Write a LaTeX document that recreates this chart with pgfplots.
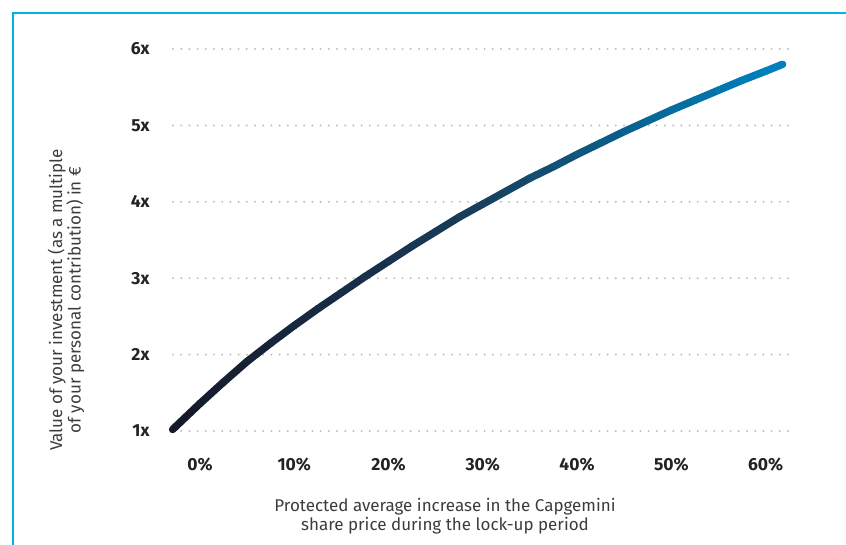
\documentclass[border=0pt]{standalone}
\usepackage{pgfplots}
\pgfplotsset{compat=1.18}
\usepackage{fontspec}
\setmainfont{Fira Sans}

\definecolor{frameblue}{RGB}{0,180,226}
\definecolor{gridgray}{RGB}{190,190,190}
\definecolor{ticktext}{RGB}{35,35,35}
\definecolor{labeltext}{RGB}{60,60,60}

\begin{document}
\begin{tikzpicture}[x=1pt,y=1pt]
  \useasboundingbox (0,0) rectangle (846,-544);
  \draw[frameblue, line width=2.6pt] (13,-546) -- (13,-13) -- (848,-13);

  \begin{axis}[
    at={(173pt,-431pt)}, anchor=south west,
    scale only axis,
    width=619pt, height=382pt,
    xmin=-2.86, xmax=62.8,
    ymin=1, ymax=6,
    clip=false,
    axis line style={draw=none},
    tick style={draw=none},
    xtick={0,10,20,30,40,50,60},
    xticklabels={0\%,10\%,20\%,30\%,40\%,50\%,60\%},
    ytick={1,2,3,4,5,6},
    yticklabels={1x,2x,3x,4x,5x,6x},
    ticklabel style={font=\bfseries\fontsize{17.5}{20}\selectfont, text=ticktext},
    xticklabel style={yshift=-23pt},
    yticklabel style={xshift=-20pt},
    ymajorgrids=true,
    major grid style={gridgray, line width=2.2pt, line cap=round, dash pattern=on 0pt off 8.2pt},
    colormap={curve}{rgb255(0pt)=(20,24,40) rgb255(50pt)=(26,62,92) rgb255(74pt)=(10,96,140) rgb255(100pt)=(0,130,192)},
  ]
    \addplot[mesh, point meta=x, line width=7.5pt, line cap=round, line join=round]
      coordinates {
        (-2.9,1.02) (0,1.36) (2.5,1.64) (5,1.91) (7.5,2.15) (10,2.38)
        (12.5,2.60) (15,2.81) (17.5,3.02) (20,3.22) (22.5,3.42) (25,3.61)
        (27.5,3.80) (30,3.97) (32.5,4.14) (35,4.31) (37.5,4.46) (40,4.62)
        (42.5,4.77) (45,4.92) (47.5,5.06) (50,5.20) (52.5,5.33) (55,5.46)
        (57.5,5.59) (60,5.71) (61.8,5.80)
      };
  \end{axis}

  \node[align=center, text=labeltext, font=\fontsize{17}{18.5}\selectfont]
    at (445,-516) {Protected average increase in the Capgemini\\share price during the lock-up period};
  \node[align=center, rotate=90, text=labeltext, font=\fontsize{17}{18.5}\selectfont]
    at (66,-300) {Value of your investment (as a multiple\\of your personal contribution) in €};
\end{tikzpicture}
\end{document}
